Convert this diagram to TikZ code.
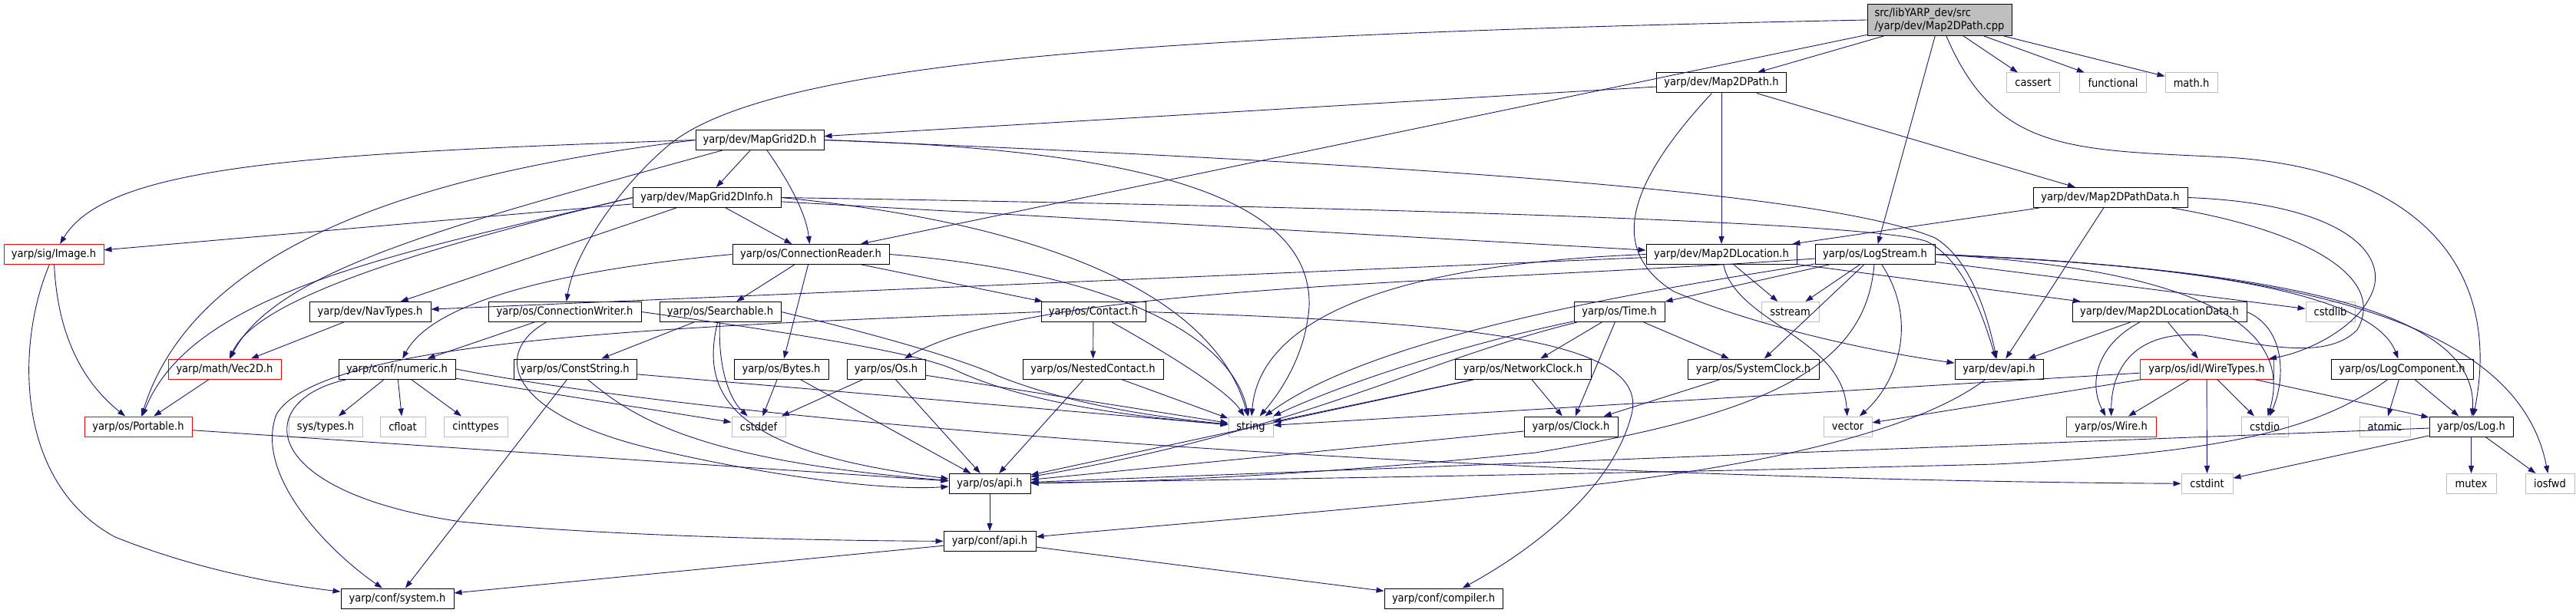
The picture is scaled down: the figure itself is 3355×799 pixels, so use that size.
\documentclass[tikz,border=0pt]{standalone}
\usepackage{fontspec}
\usetikzlibrary{arrows.meta}
\newfontfamily\hdrfont{DejaVu Sans Condensed}
\definecolor{edgeblue}{RGB}{25,25,112}
\definecolor{sysgray}{RGB}{191,191,191}
\definecolor{rootgray}{RGB}{191,191,191}
\begin{document}
\begin{tikzpicture}[x=1pt, y=-1pt,
    hdr/.style={draw=black, fill=white, line width=1pt, minimum height=26, inner sep=0pt, font=\hdrfont\fontsize{14.5}{16.5}\selectfont},
    syshdr/.style={hdr, draw=sysgray},
    cuthdr/.style={hdr, draw=red},
    dep/.style={draw=edgeblue, line width=0.9pt, -{Triangle[length=10pt, width=7pt]}}]
        \useasboundingbox (0,0) rectangle (3355,799);

        % Datei
        \node[hdr, fill=rootgray, minimum width=188, minimum height=41, align=left] (root) at (2526,26) {src/libYARP\_dev/src\\/yarp/dev/Map2DPath.cpp};

        % Ebene 1
        \node[hdr, minimum width=169] (mappath) at (2242,108) {yarp/dev/Map2DPath.h};
        \node[syshdr, minimum width=69] (cassert) at (2648,108) {cassert};
        \node[syshdr, minimum width=87] (functional) at (2752,108) {functional};
        \node[syshdr, minimum width=68] (mathh) at (2854,108) {math.h};

        % Ebene 2 und 3
        \node[hdr, minimum width=167] (mapgrid) at (989.5,182.5) {yarp/dev/MapGrid2D.h};
        \node[hdr, minimum width=193] (gridinfo) at (920.5,257.5) {yarp/dev/MapGrid2DInfo.h};
        \node[hdr, minimum width=201] (pathdata) at (2748.5,257.5) {yarp/dev/Map2DPathData.h};

        % Ebene 4
        \node[cuthdr, minimum width=130] (image) at (70,331.5) {yarp/sig/Image.h};
        \node[hdr, minimum width=204] (connreader) at (1056,331.5) {yarp/os/ConnectionReader.h};
        \node[hdr, minimum width=196] (location) at (2242,331.5) {yarp/dev/Map2DLocation.h};
        \node[hdr, minimum width=156] (logstream) at (2442,331.5) {yarp/os/LogStream.h};

        % Ebene 5
        \node[hdr, minimum width=158] (navtypes) at (482,406.5) {yarp/dev/NavTypes.h};
        \node[hdr, minimum width=199] (connwriter) at (735.5,406.5) {yarp/os/ConnectionWriter.h};
        \node[hdr, minimum width=158] (searchable) at (938,406.5) {yarp/os/Searchable.h};
        \node[hdr, minimum width=136] (contact) at (1424,406.5) {yarp/os/Contact.h};
        \node[hdr, minimum width=118] (timeh) at (2109,406.5) {yarp/os/Time.h};
        \node[syshdr, minimum width=75] (sstream) at (2331.5,406.5) {sstream};
        \node[hdr, minimum width=227] (locdata) at (2812.5,406.5) {yarp/dev/Map2DLocationData.h};
        \node[syshdr, minimum width=64] (cstdlib) at (3035,406.5) {cstdlib};

        % Ebene 6
        \node[cuthdr, minimum width=147] (vecd) at (292.5,481) {yarp/math/Vec2D.h};
        \node[hdr, minimum width=152] (numeric) at (517,481) {yarp/conf/numeric.h};
        \node[hdr, minimum width=160] (conststr) at (749,481) {yarp/os/ConstString.h};
        \node[hdr, minimum width=123] (bytes) at (1017.5,481) {yarp/os/Bytes.h};
        \node[hdr, minimum width=102] (osh) at (1154,481) {yarp/os/Os.h};
        \node[hdr, minimum width=183] (nested) at (1423.5,481) {yarp/os/NestedContact.h};
        \node[hdr, minimum width=177] (netclock) at (1983.5,481) {yarp/os/NetworkClock.h};
        \node[hdr, minimum width=171] (sysclock) at (2283.5,481) {yarp/os/SystemClock.h};
        \node[hdr, minimum width=115] (devapi) at (2603.5,481) {yarp/dev/api.h};
        \node[cuthdr, minimum width=174] (wiretypes) at (2874,481) {yarp/os/idl/WireTypes.h};
        \node[hdr, minimum width=185] (logcomp) at (3128.5,481) {yarp/os/LogComponent.h};

        % Ebene 7
        \node[cuthdr, minimum width=140] (portable) at (180,556) {yarp/os/Portable.h};
        \node[syshdr, minimum width=96] (systypes) at (424,556) {sys/types.h};
        \node[syshdr, minimum width=59] (cfloat) at (524.5,556) {cfloat};
        \node[syshdr, minimum width=83] (cinttypes) at (619.5,556) {cinttypes};
        \node[syshdr, minimum width=70] (cstddef) at (988,556) {cstddef};
        \node[syshdr, minimum width=58] (stringh) at (1629,556) {string};
        \node[hdr, minimum width=122] (clock) at (2046,556) {yarp/os/Clock.h};
        \node[syshdr, minimum width=63] (vector) at (2406.5,556) {vector};
        \node[cuthdr, minimum width=117] (wire) at (2749.5,556) {yarp/os/Wire.h};
        \node[syshdr, minimum width=61] (cstdio) at (2949.5,556) {cstdio};
        \node[syshdr, minimum width=66] (atomic) at (3106,556) {atomic};
        \node[hdr, minimum width=109] (logh) at (3218.5,556) {yarp/os/Log.h};

        % Ebene 8 bis 10
        \node[hdr, minimum width=106] (osapi) at (1289,630.5) {yarp/os/api.h};
        \node[syshdr, minimum width=67] (cstdint) at (2874.5,630.5) {cstdint};
        \node[syshdr, minimum width=65] (mutex) at (3218.5,630.5) {mutex};
        \node[syshdr, minimum width=64] (iosfwd) at (3321,630.5) {iosfwd};
        \node[hdr, minimum width=120] (confapi) at (1289,705.5) {yarp/conf/api.h};
        \node[hdr, minimum width=147] (system) at (517.5,780) {yarp/conf/system.h};
        \node[hdr, minimum width=154] (compiler) at (1880,780) {yarp/conf/compiler.h};

        % Kanten der Datei
        \draw[dep] (root) -- (mappath);
        \draw[dep] (root) -- (cassert);
        \draw[dep] (root) -- (functional);
        \draw[dep] (root) -- (mathh);
        \draw[dep] (root) -- (logstream);
        \draw[dep] (root) -- (connreader);
        \draw[dep] (root.west) .. controls (1500,45) and (1000,80) .. (870,190) .. controls (805,245) and (748,330) .. (connwriter);
        \draw[dep] (root) .. controls (2600,200) and (2700,195) .. (2900,205) .. controls (3150,220) and (3260,350) .. (logh);

        % Map2DPath.h
        \draw[dep] (mappath) -- (mapgrid);
        \draw[dep] (mappath) -- (location);
        \draw[dep] (mappath) -- (pathdata);
        \draw[dep] (mappath) .. controls (2110,250) and (2100,330) .. (2180,380) .. controls (2300,430) and (2450,460) .. (devapi);

        % MapGrid2D.h
        \draw[dep] (mapgrid) -- (gridinfo);
        \draw[dep] (mapgrid) .. controls (1030,240) and (1050,280) .. (connreader);
        \draw[dep] (mapgrid.west) .. controls (400,200) and (140,215) .. (image);
        \draw[dep] (mapgrid.west) .. controls (600,220) and (260,300) .. (portable);
        \draw[dep] (mapgrid) .. controls (600,290) and (360,350) .. (vecd);
        \draw[dep] (mapgrid.east) .. controls (1500,195) and (1710,260) .. (1705,400) .. controls (1700,470) and (1660,520) .. (stringh);
        \draw[dep] (mapgrid.east) .. controls (2000,220) and (2400,260) .. (2520,310) .. controls (2570,340) and (2590,420) .. (devapi);

        % MapGrid2DInfo.h
        \draw[dep] (gridinfo) -- (connreader);
        \draw[dep] (gridinfo) -- (location);
        \draw[dep] (gridinfo) -- (image);
        \draw[dep] (gridinfo) -- (navtypes);
        \draw[dep] (gridinfo.west) .. controls (520,330) and (250,380) .. (portable);
        \draw[dep] (gridinfo.west) .. controls (480,340) and (330,400) .. (vecd);
        \draw[dep] (gridinfo.east) .. controls (1800,270) and (2450,290) .. (2510,315) .. controls (2560,340) and (2585,420) .. (devapi);
        \draw[dep] (gridinfo.east) .. controls (1350,290) and (1580,380) .. (stringh);

        % Map2DPathData.h
        \draw[dep] (pathdata) -- (location);
        \draw[dep] (pathdata) -- (devapi);
        \draw[dep] (pathdata.east) .. controls (3050,265) and (3110,330) .. (3090,380) .. controls (3070,430) and (3000,460) .. (wiretypes);
        \draw[dep] (pathdata) .. controls (3000,300) and (3110,360) .. (3070,430) .. controls (3030,470) and (2950,450) .. (2870,437) .. controls (2780,430) and (2750,480) .. (wire);

        % ConnectionReader.h
        \draw[dep] (connreader) -- (searchable);
        \draw[dep] (connreader) -- (bytes);
        \draw[dep] (connreader) -- (contact);
        \draw[dep] (connreader.east) .. controls (1400,350) and (1600,420) .. (stringh);
        \draw[dep] (connreader.west) .. controls (700,355) and (560,400) .. (numeric);

        % Map2DLocation.h
        \draw[dep] (location) -- (navtypes);
        \draw[dep] (location) -- (sstream);
        \draw[dep] (location) -- (locdata);
        \draw[dep] (location) .. controls (2260,420) and (2400,440) .. (vector);
        \draw[dep] (location.west) .. controls (1800,345) and (1640,420) .. (stringh);

        % LogStream.h
        \draw[dep] (logstream) -- (timeh);
        \draw[dep] (logstream) -- (sstream);
        \draw[dep] (logstream) -- (sysclock);
        \draw[dep] (logstream) -- (cstdlib);
        \draw[dep] (logstream) .. controls (1900,370) and (1350,370) .. (osh);
        \draw[dep] (logstream) .. controls (2200,370) and (1800,430) .. (stringh);
        \draw[dep] (logstream) .. controls (2500,420) and (2470,500) .. (vector);
        \draw[dep] (logstream) .. controls (2430,480) and (2300,540) .. (2000,590) .. controls (1700,620) and (1500,628) .. (osapi);
        \draw[dep] (logstream.east) .. controls (2850,350) and (2990,420) .. (cstdio);
        \draw[dep] (logstream.east) .. controls (2850,345) and (3090,380) .. (logcomp);
        \draw[dep] (logstream.east) .. controls (2950,350) and (3230,400) .. (logh);
        \draw[dep] (logstream.east) .. controls (3000,350) and (3280,420) .. (iosfwd);

        % Ebene 5
        \draw[dep] (navtypes) -- (vecd);
        \draw[dep] (connwriter) -- (numeric);
        \draw[dep] (connwriter) .. controls (640,460) and (660,540) .. (850,585) .. controls (1000,620) and (1150,640) .. (osapi);
        \draw[dep] (connwriter.east) .. controls (1150,450) and (1220,470) .. (1250,485) .. controls (1350,530) and (1500,545) .. (stringh);
        \draw[dep] (searchable) -- (conststr);
        \draw[dep] (searchable) .. controls (935,480) and (950,520) .. (cstddef);
        \draw[dep] (searchable) .. controls (910,520) and (960,590) .. (osapi);
        \draw[dep] (searchable.east) .. controls (1200,450) and (1280,480) .. (1300,490) .. controls (1400,530) and (1520,545) .. (stringh);
        \draw[dep] (contact) -- (nested);
        \draw[dep] (contact) .. controls (1520,460) and (1600,510) .. (stringh);
        \draw[dep] (contact.east) .. controls (1900,420) and (2150,440) .. (2125,540) .. controls (2100,640) and (1990,720) .. (compiler);
        \draw[dep] (contact.west) .. controls (900,425) and (420,440) .. (360,540) .. controls (330,620) and (430,720) .. (system);
        \draw[dep] (timeh) -- (netclock);
        \draw[dep] (timeh) -- (clock);
        \draw[dep] (timeh) -- (sysclock);
        \draw[dep] (timeh) .. controls (1900,450) and (1750,500) .. (stringh);
        \draw[dep] (timeh) .. controls (1850,470) and (1700,560) .. (osapi);
        \draw[dep] (locdata) -- (devapi);
        \draw[dep] (locdata) -- (wiretypes);
        \draw[dep] (locdata) .. controls (2730,450) and (2720,500) .. (wire);
        \draw[dep] (locdata.east) .. controls (2980,430) and (2975,500) .. (cstdio);

        % Ebene 6
        \draw[dep] (vecd) -- (portable);
        \draw[dep] (numeric) -- (systypes);
        \draw[dep] (numeric) -- (cfloat);
        \draw[dep] (numeric) -- (cinttypes);
        \draw[dep] (numeric) -- (cstddef);
        \draw[dep] (numeric.east) .. controls (1000,560) and (2000,625) .. (cstdint);
        \draw[dep] (numeric) .. controls (330,520) and (330,640) .. (600,680) .. controls (800,700) and (1100,705) .. (confapi);
        \draw[dep] (conststr) -- (system);
        \draw[dep] (conststr) .. controls (820,540) and (900,600) .. (osapi);
        \draw[dep] (conststr) -- (stringh);
        \draw[dep] (bytes) -- (cstddef);
        \draw[dep] (bytes) -- (osapi);
        \draw[dep] (osh) -- (cstddef);
        \draw[dep] (osh) -- (osapi);
        \draw[dep] (osh) -- (stringh);
        \draw[dep] (nested) -- (osapi);
        \draw[dep] (nested) -- (stringh);
        \draw[dep] (netclock) -- (clock);
        \draw[dep] (netclock) -- (stringh);
        \draw[dep] (netclock) -- (osapi);
        \draw[dep] (sysclock) -- (clock);
        \draw[dep] (devapi) .. controls (2500,560) and (2300,610) .. (2000,640) .. controls (1700,670) and (1450,690) .. (confapi);
        \draw[dep] (wiretypes) -- (wire);
        \draw[dep] (wiretypes) -- (cstdio);
        \draw[dep] (wiretypes) -- (cstdint);
        \draw[dep] (wiretypes) -- (logh);
        \draw[dep] (wiretypes) -- (vector);
        \draw[dep] (wiretypes) -- (stringh);
        \draw[dep] (logcomp) -- (atomic);
        \draw[dep] (logcomp) -- (logh);
        \draw[dep] (logcomp) .. controls (3020,560) and (2900,590) .. (2600,605) .. controls (2000,620) and (1600,625) .. (osapi);

        % Ebene 7 und tiefer
        \draw[dep] (image) .. controls (75,440) and (110,500) .. (portable);
        \draw[dep] (image) .. controls (20,450) and (20,630) .. (150,700) .. controls (250,740) and (350,760) .. (system);
        \draw[dep] (portable) -- (osapi);
        \draw[dep] (clock) -- (osapi);
        \draw[dep] (logh) -- (osapi);
        \draw[dep] (logh) -- (cstdint);
        \draw[dep] (logh) -- (mutex);
        \draw[dep] (logh) -- (iosfwd);
        \draw[dep] (osapi) -- (confapi);
        \draw[dep] (confapi) -- (system);
        \draw[dep] (confapi) -- (compiler);

    \end{tikzpicture}
\end{document}
